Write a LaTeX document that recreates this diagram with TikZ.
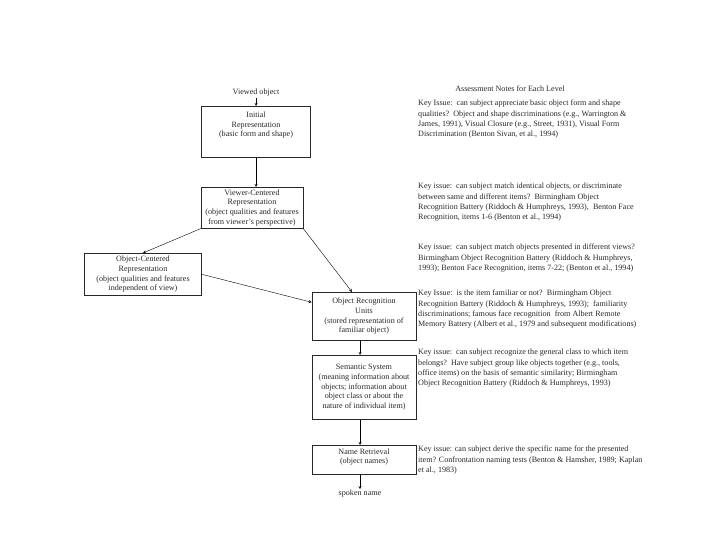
\documentclass[tikz,border=0pt]{standalone}
\usepackage{fontspec}
\setmainfont{Liberation Serif}
\usetikzlibrary{positioning}
\definecolor{inkgray}{RGB}{40,40,40}
\tikzset{
  level/.style={draw=inkgray, line width=0.6pt, align=center, inner xsep=1pt, inner ysep=2pt,
    font=\fontsize{8.1}{9.6}\selectfont, text=inkgray},
  plain/.style={inner sep=1pt, font=\fontsize{8.1}{10.2}\selectfont, text=inkgray},
  note/.style={align=left, inner sep=0pt, anchor=north west,
    font=\fontsize{8.1}{10.3}\selectfont, text=inkgray},
  >=stealth
}

\begin{document}
\begin{tikzpicture}[x=1pt, y=-1pt]
            \useasboundingbox (0,0) rectangle (720,540);

            % Levels
            \node[plain] (viewed) at (256,93) {Viewed object};
            \node[level, minimum width=109, minimum height=51, anchor=north] (initial) at (256,106)
              {Initial\\Representation\\(basic form and shape)\\[5pt]\mbox{}};
            \node[level, minimum width=102, minimum height=41, anchor=north] (viewer) at (252,187)
              {Viewer-Centered\\Representation\\(object qualities and features\\from viewer's perspective)};
            \node[level, minimum width=117, minimum height=42, anchor=north] (objcent) at (143,253)
              {Object-Centered\\Representation\\(object qualities and features\\independent of view)};
            \node[level, minimum width=104, minimum height=48, anchor=north] (oru) at (364,292)
              {Object Recognition\\Units\\(stored representation of\\familiar object)};
            \node[level, minimum width=104, minimum height=64, anchor=north] (semantic) at (364,355)
              {Semantic System\\(meaning information about\\objects; information about\\object class or about the\\nature of individual item)};
            \node[level, minimum width=104, minimum height=29, anchor=north] (name) at (364,445)
              {Name Retrieval\\(object names)\\[-2pt]\mbox{}};
            \node[plain] (spoken) at (360,494) {spoken name};

            % Arrows
            \draw[->] (viewed) -- (initial);
            \draw[->] (initial.south -| viewed) -- (viewer.north -| viewed);
            \draw[->] (viewer.south west) -- (objcent.north);
            \draw[->] (objcent.east) -- ([yshift=14pt]oru.west);
            \draw[->] (viewer.south east) -- ([xshift=-12pt]oru.north);
            \draw[->] (oru.south -| spoken) -- (semantic.north -| spoken);
            \draw[->] (semantic.south -| spoken) -- (name.north -| spoken);
            \draw[->] (name.south -| spoken) -- (spoken);

            % Notes
            \node[plain] (title) at (510,89) {Assessment Notes for Each Level};
            \node[note] (note1) at (418,100) {Key Issue:\ \ can subject appreciate basic object form and shape\\
              qualities?\ \ Object and shape discriminations (e.g., Warrington \&\\
              James, 1991), Visual Closure (e.g., Street, 1931), Visual Form\\
              Discrimination (Benton Sivan, et al., 1994)};
            \node[note] (note2) at (418,183) {Key issue:\ \ can subject match identical objects, or discriminate\\
              between same and different items?\ \ Birmingham Object\\
              Recognition Battery (Riddoch \& Humphreys, 1993),\ \ Benton Face\\
              Recognition, items 1-6 (Benton et al., 1994)};
            \node[note] (note3) at (418,244) {Key issue:\ \ can subject match objects presented in different views?\\
              Birmingham Object Recognition Battery (Riddoch \& Humphreys,\\
              1993); Benton Face Recognition, items 7-22; (Benton et al., 1994)};
            \node[note] (note4) at (418,290) {Key Issue:\ \ is the item familiar or not?\ \ Birmingham Object\\
              Recognition Battery (Riddoch \& Humphreys, 1993);\ \ familiarity\\
              discriminations; famous face recognition\ \ from Albert Remote\\
              Memory Battery (Albert et al., 1979 and subsequent modifications)};
            \node[note] (note5) at (418,349) {Key issue:\ \ can subject recognize the general class to which item\\
              belongs?\ \ Have subject group like objects together (e.g., tools,\\
              office items) on the basis of semantic similarity; Birmingham\\
              Object Recognition Battery (Riddoch \& Humphreys, 1993)};
            \node[note] (note6) at (418,446) {Key issue: can subject derive the specific name for the presented\\
              item? Confrontation naming tests (Benton \& Hamsher, 1989; Kaplan\\
              et al., 1983)};
        \end{tikzpicture}
\end{document}
